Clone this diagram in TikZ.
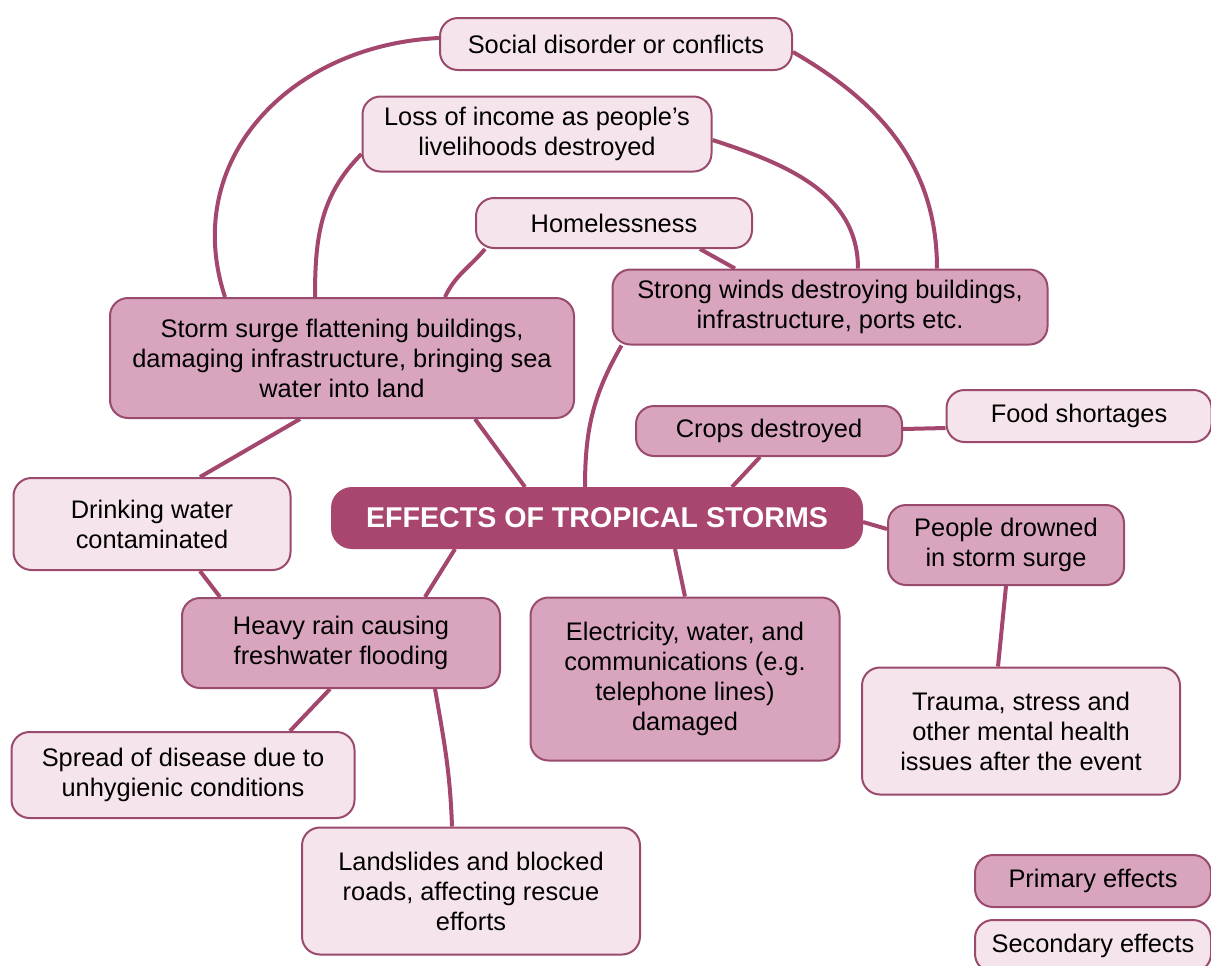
\documentclass[tikz,border=0pt]{standalone}
\usepackage{fontspec}
\setmainfont{Liberation Sans}
\usepackage{tikz}
\usetikzlibrary{positioning,backgrounds,calc}

\definecolor{stormdark}{HTML}{A84670}
\definecolor{stormline}{HTML}{A3476F}
\definecolor{stormedge}{HTML}{9A4A6D}
\definecolor{primfill}{HTML}{D9A5BE}
\definecolor{secfill}{HTML}{F6E4EC}

\begin{document}
\begin{tikzpicture}[
  x=0.5pt, y=-0.5pt,
  font=\fontsize{12.7}{15}\selectfont,
  prim/.style={draw=stormedge, line width=1pt, rounded corners=9pt, fill=primfill,
               align=center, inner sep=2pt},
  sec/.style={draw=stormedge, line width=1pt, rounded corners=9pt, fill=secfill,
              align=center, inner sep=2pt},
  hub/.style={draw=stormdark, line width=1pt, rounded corners=10pt, fill=stormdark,
              text=white, align=center, font=\fontsize{14.3}{17}\selectfont\bfseries},
  link/.style={line width=2pt, color=stormline},
]
\useasboundingbox (0,0) rectangle (1211,965);

\node[hub]  (central) at (597,518) [minimum width=265pt, minimum height=30pt] {EFFECTS OF TROPICAL STORMS};
\node[sec]  (social)   at (616,44)  [minimum width=176pt, minimum height=26pt] {Social disorder or conflicts};
\node[sec]  (loss)     at (537,134) [minimum width=174.5pt, minimum height=37.5pt] {Loss of income as people’s\\livelihoods destroyed};
\node[sec]  (homeless) at (614,223) [minimum width=138pt, minimum height=25pt] {Homelessness};
\node[prim] (winds)    at (830,307) [minimum width=217.5pt, minimum height=37.5pt] {Strong winds destroying buildings,\\infrastructure, ports etc.};
\node[prim] (surge)    at (342,358) [minimum width=232pt, minimum height=60pt] {Storm surge flattening buildings,\\damaging infrastructure, bringing sea\\water into land};
\node[prim] (crops)    at (769,431) [minimum width=133pt, minimum height=25pt] {Crops destroyed};
\node[sec]  (food)     at (1079,416) [minimum width=132.5pt, minimum height=26pt] {Food shortages};
\node[sec]  (drinking) at (152,524) [minimum width=138.5pt, minimum height=46pt] {Drinking water\\contaminated};
\node[prim] (drowned)  at (1006,545) [minimum width=118pt, minimum height=40pt] {People drowned\\in storm surge};
\node[prim] (rain)     at (341,643) [minimum width=159pt, minimum height=45pt] {Heavy rain causing\\freshwater flooding};
\node[prim] (power)    at (685,679) [minimum width=154.5pt, minimum height=81.5pt] {Electricity, water, and\\communications (e.g.\\telephone lines)\\damaged};
\node[sec]  (trauma)   at (1021,731) [minimum width=159pt, minimum height=63.5pt] {Trauma, stress and\\other mental health\\issues after the event};
\node[sec]  (disease)  at (183,775) [minimum width=171.5pt, minimum height=43pt] {Spread of disease due to\\unhygienic conditions};
\node[sec]  (slides)   at (471,891) [minimum width=169pt, minimum height=63.5pt] {Landslides and blocked\\roads, affecting rescue\\efforts};
% legend
\node[prim] (keyprim)  at (1093,881) [minimum width=118pt, minimum height=26pt] {Primary effects};
\node[sec]  (keysec)   at (1093,946) [minimum width=118pt, minimum height=26pt] {Secondary effects};

\begin{scope}[on background layer]
\draw[link] ([xshift=-58.5pt]surge.north) .. controls (180,160) and (290,45) .. ([yshift=3pt]social.west);
\draw[link] ([yshift=-4pt]social.east) to[out=-30, in=90] ([xshift=53.5pt]winds.north);
\draw[link] ([xshift=-13.5pt]surge.north) to[out=90, in=225] ([yshift=-10pt]loss.west);
\draw[link] ([yshift=-3pt]loss.east) to[out=-18, in=90] ([xshift=14pt]winds.north);
\draw[link] ([xshift=51.5pt]surge.north) to[out=65, in=230] ([xshift=5pt]homeless.south west);
\draw[link] ([xshift=43pt]homeless.south) -- ([xshift=-47.5pt]winds.north);
\draw[link] ([xshift=5pt]winds.south west) to[out=240, in=90] ([xshift=-6pt]central.north);
\draw[link] ([xshift=66.5pt]surge.south) -- ([xshift=-36pt]central.north);
\draw[link] ([xshift=-21pt]surge.south) -- ([xshift=24pt]drinking.north);
\draw[link] ([xshift=-4.5pt]crops.south) -- ([xshift=67.5pt]central.north);
\draw[link] ([yshift=1pt]crops.east) -- ([yshift=-6pt]food.west);
\draw[link] ([yshift=-2pt]central.east) -- ([yshift=8pt]drowned.west);
\draw[link] ([xshift=-71pt]central.south) -- ([xshift=42pt]rain.north);
\draw[link] ([xshift=24pt]drinking.south) -- ([xshift=-60.5pt]rain.north);
\draw[link] ([xshift=39pt]central.south) -- (power.north);
\draw[link] (drowned.south) -- ([xshift=-11.5pt]trauma.north);
\draw[link] ([xshift=-5.5pt]rain.south) -- ([xshift=53.5pt]disease.north);
\draw[link] ([xshift=47pt]rain.south) to[out=-80, in=92] ([xshift=-9.5pt]slides.north);
\end{scope}
\end{tikzpicture}
\end{document}
